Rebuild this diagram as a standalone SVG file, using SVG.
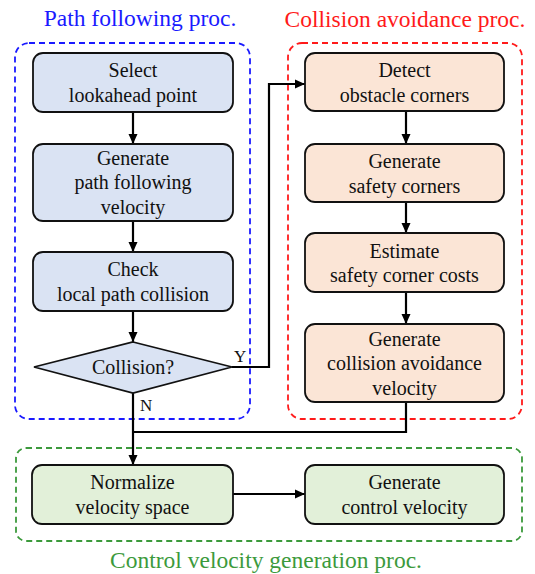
<svg xmlns="http://www.w3.org/2000/svg" width="535" height="574" viewBox="0 0 535 574">
<defs>
<marker id="ah" viewBox="0 0 10 10" refX="10" refY="5" markerWidth="10" markerHeight="10" markerUnits="userSpaceOnUse" orient="auto">
<path d="M0,0.5 L10,5 L0,9.5 z" fill="#000"/>
</marker>
<style>
text{font-family:'Liberation Serif','DejaVu Serif',serif}
.t{font-size:20px;fill:#111;text-anchor:middle}
.ttl{font-size:23.5px;text-anchor:middle}
.lbl{font-size:17px;fill:#111}
.grp{fill:none;stroke-width:1.8;stroke-dasharray:6 4}
.nb{fill:#dae3f3;stroke:#111;stroke-width:1.8}
.no{fill:#fbe5d6;stroke:#111;stroke-width:1.8}
.ng{fill:#e2f0d9;stroke:#111;stroke-width:1.8}
.c{fill:none;stroke:#000;stroke-width:2.2}
</style>
</defs>
<rect width="535" height="574" fill="#fff"/>
<g id="groups" font-family="Liberation Serif, serif">
<rect class="grp" x="15" y="43" width="235" height="376" rx="14" stroke="#1a1aff"/>
<rect class="grp" x="288" y="43" width="234" height="376" rx="14" stroke="#ff1a1a"/>
<rect class="grp" x="16" y="448" width="506" height="93" rx="10" stroke="#3c9a3c"/>
<text class="ttl" x="140" y="26" fill="#1a1aff">Path following proc.</text>
<text class="ttl" x="405" y="27" fill="#ff1a1a">Collision avoidance proc.</text>
<text class="ttl" x="266" y="568" fill="#3c9a3c">Control velocity generation proc.</text>
</g>
<g id="connectors">
<line class="c" x1="133" y1="112" x2="133" y2="144" marker-end="url(#ah)"/>
<line class="c" x1="133" y1="221" x2="133" y2="252" marker-end="url(#ah)"/>
<line class="c" x1="133" y1="311" x2="133" y2="342" marker-end="url(#ah)"/>
<line class="c" x1="133" y1="393" x2="133" y2="465" marker-end="url(#ah)"/>
<polyline class="c" points="232,367 269,367 269,84 305,84" marker-end="url(#ah)"/>
<line class="c" x1="406" y1="111" x2="406" y2="144" marker-end="url(#ah)"/>
<line class="c" x1="406" y1="202" x2="406" y2="233" marker-end="url(#ah)"/>
<line class="c" x1="406" y1="292" x2="406" y2="324" marker-end="url(#ah)"/>
<polyline class="c" points="406,402 406,432 133,432"/>
<line class="c" x1="233" y1="494" x2="305" y2="494" marker-end="url(#ah)"/>
<text class="lbl" x="234" y="362">Y</text>
<text class="lbl" x="140" y="411">N</text>
</g>
<g id="select">
<rect class="nb" x="33" y="53" width="200" height="59" rx="10"/>
<text class="t" x="133" y="77">Select</text>
<text class="t" x="133" y="101.5">lookahead point</text>
</g>
<g id="generate-pf">
<rect class="nb" x="33" y="144" width="200" height="77" rx="10"/>
<text class="t" x="133" y="164.5">Generate</text>
<text class="t" x="133" y="189">path following</text>
<text class="t" x="133" y="213.5">velocity</text>
</g>
<g id="check">
<rect class="nb" x="33" y="252" width="200" height="59" rx="10"/>
<text class="t" x="133" y="276">Check</text>
<text class="t" x="133" y="300.5">local path collision</text>
</g>
<g id="collision">
<polygon class="nb" points="133,342 232,367 133,393 34,367"/>
<text class="t" x="133" y="373.5">Collision?</text>
</g>
<g id="detect">
<rect class="no" x="305" y="53" width="199" height="58" rx="10"/>
<text class="t" x="404.5" y="77">Detect</text>
<text class="t" x="404.5" y="101.5">obstacle corners</text>
</g>
<g id="safety">
<rect class="no" x="305" y="144" width="199" height="58" rx="10"/>
<text class="t" x="404.5" y="168">Generate</text>
<text class="t" x="404.5" y="192.5">safety corners</text>
</g>
<g id="estimate">
<rect class="no" x="305" y="233" width="199" height="59" rx="10"/>
<text class="t" x="404.5" y="257.5">Estimate</text>
<text class="t" x="404.5" y="282">safety corner costs</text>
</g>
<g id="generate-ca">
<rect class="no" x="305" y="324" width="199" height="78" rx="10"/>
<text class="t" x="404.5" y="345.5">Generate</text>
<text class="t" x="404.5" y="370">collision avoidance</text>
<text class="t" x="404.5" y="394.5">velocity</text>
</g>
<g id="normalize">
<rect class="ng" x="32" y="465" width="201" height="59" rx="10"/>
<text class="t" x="132.5" y="489">Normalize</text>
<text class="t" x="132.5" y="513.5">velocity space</text>
</g>
<g id="control">
<rect class="ng" x="305" y="465" width="199" height="59" rx="10"/>
<text class="t" x="404.5" y="489">Generate</text>
<text class="t" x="404.5" y="513.5">control velocity</text>
</g>
</svg>
